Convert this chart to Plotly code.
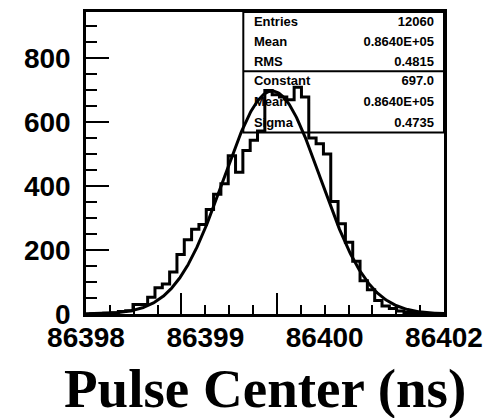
import numpy as np
import plotly.graph_objects as go

# ---------------- data ----------------
bin_low = 86397.78
bin_width = 0.0716
counts = [0, 1, 2, 4, 8, 10, 30, 30, 52, 82, 94, 131, 186, 232, 265, 280,
          327, 374, 407, 495, 443, 511, 543, 572, 699, 685, 678, 670, 709,
          678, 550, 532, 500, 352, 282, 224, 165, 104, 76, 42, 25, 17, 9,
          5, 3, 1, 1, 0]

fit_constant = 697.0
fit_mean = 86399.57
fit_sigma = 0.4735

x_range = [86397.75, 86401.25]
y_range = [0, 944]

x_tick_labels = ["86398", "86399", "86400", "86402"]
y_tick_vals = [0, 200, 400, 600, 800]
y_tick_labels = ["0", "200", "400", "600", "800"]

stats_names = ["Entries", "Mean", "RMS", "Constant", "Mean", "Sigma"]
stats_values = ["12060", "0.8640E+05", "0.4815", "697.0", "0.8640E+05", "0.4735"]

x_title = "Pulse Center (ns)"

# ---------------- derived ----------------
edges = bin_low + bin_width * np.arange(len(counts) + 1)
hx = [edges[0]] + list(edges) + [edges[-1]]
hy = [0] + list(counts) + [counts[-1], 0]

fx = np.linspace(x_range[0], x_range[1], 500)
fy = fit_constant * np.exp(-0.5 * ((fx - fit_mean) / fit_sigma) ** 2)

# 15 x divisions; labels at 0,5,10,15; long ticks at 4 and 8
xdiv = np.linspace(x_range[0], x_range[1], 16)
major_idx = [i for i in range(16) if i not in (4, 8)]
x_major_vals = [xdiv[i] for i in major_idx]
lab_map = {0: x_tick_labels[0], 5: x_tick_labels[1], 10: x_tick_labels[2], 15: x_tick_labels[3]}
x_major_text = [lab_map.get(i, "") for i in major_idx]
x_long_vals = [xdiv[4], xdiv[8]]

def fx_(f):
    return x_range[0] + f * (x_range[1] - x_range[0])

def fy_(f):
    return y_range[0] + f * (y_range[1] - y_range[0])

row_fracs = [0.9645, 0.8982, 0.8332, 0.7688, 0.6992, 0.6308]

fig = go.Figure()

# stats text (drawn first so the histogram lies over it, as in the original)
fig.add_trace(go.Scatter(
    x=[fx_(0.469)] * len(stats_names), y=[fy_(f) for f in row_fracs],
    mode="text", text=stats_names, textposition="middle right",
    textfont=dict(family="Liberation Sans", size=13, color="black", weight="bold"),
    showlegend=False, hoverinfo="skip"))
fig.add_trace(go.Scatter(
    x=[fx_(0.972)] * len(stats_values), y=[fy_(f) for f in row_fracs],
    mode="text", text=stats_values, textposition="middle left",
    textfont=dict(family="Liberation Sans", size=13, color="black", weight="bold"),
    showlegend=False, hoverinfo="skip"))

fig.add_trace(go.Scatter(x=hx, y=hy, mode="lines", line=dict(color="black", width=3, shape="hv"),
                         showlegend=False, hoverinfo="skip"))
fig.add_trace(go.Scatter(x=fx, y=fy, mode="lines", line=dict(color="black", width=3),
                         showlegend=False, hoverinfo="skip"))

# the page body adds an 8px offset, so the figure is 8px smaller and shifted
fig.update_layout(
    width=486, height=410, autosize=False,
    margin=dict(l=78, r=50, t=4, b=104, pad=0),
    paper_bgcolor="white", plot_bgcolor="white",
    showlegend=False,
    xaxis=dict(range=x_range, showgrid=False, zeroline=False, showline=True, mirror=True,
               linecolor="black", linewidth=2.5,
               tickmode="array", tickvals=x_major_vals, ticktext=x_major_text,
               ticks="inside", ticklen=9, tickwidth=2, tickcolor="black",
               minor=dict(tickmode="array", tickvals=x_long_vals, ticks="inside", ticklen=21,
                          tickwidth=2, tickcolor="black", showgrid=False),
               tickfont=dict(family="Liberation Sans", size=28, color="black", weight="bold"),
               ticklabelstandoff=-3, automargin=False),
    yaxis=dict(range=y_range, showgrid=False, zeroline=False, showline=True, mirror=True,
               linecolor="black", linewidth=2.5,
               tickmode="array", tickvals=y_tick_vals, ticktext=y_tick_labels,
               ticks="inside", ticklen=23, tickwidth=2, tickcolor="black",
               minor=dict(tickmode="linear", tick0=0, dtick=50, ticks="inside", ticklen=11,
                          tickwidth=2, tickcolor="black", showgrid=False),
               tickfont=dict(family="Liberation Sans", size=28, color="black", weight="bold"),
               ticklabelstandoff=7, automargin=False),
    shapes=[
        dict(type="rect", xref="paper", yref="paper", x0=0.4394, x1=1.0, y0=0.601, y1=1.0,
             line=dict(color="black", width=2), layer="below"),
        dict(type="line", xref="paper", yref="paper", x0=0.4394, x1=1.0, y0=0.804, y1=0.804,
             line=dict(color="black", width=2), layer="below"),
    ],
    annotations=[dict(text=x_title, xref="paper", yref="paper", x=0.5, y=-0.246,
                      xanchor="center", yanchor="middle", showarrow=False,
                      font=dict(family="Liberation Serif", size=55, color="black", weight="bold"))],
)

fig.write_html("out.html")
